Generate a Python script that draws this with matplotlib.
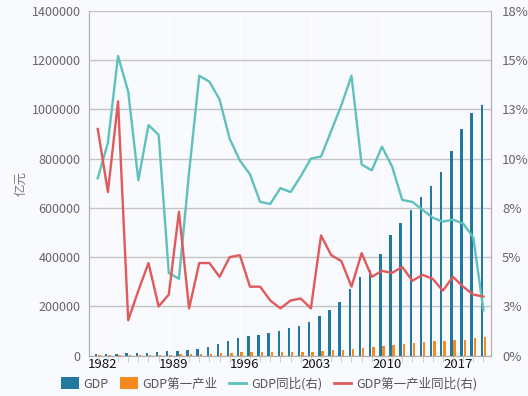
import matplotlib.pyplot as plt
import numpy as np
from matplotlib.patches import Patch
from matplotlib.lines import Line2D

plt.rcParams['font.family'] = ['Noto Sans CJK SC', 'DejaVu Sans']

years = list(range(1982, 2021))
gdp = [5373, 6021, 7279, 9099, 10376, 12175, 15180, 17180, 18873, 22006,
       27195, 35673, 48638, 61340, 71814, 79715, 85196, 90564, 100280, 110863,
       121717, 137422, 161840, 187319, 219439, 270092, 319245, 348518, 412119, 487940,
       538580, 592963, 643563, 688858, 746395, 832036, 919281, 986515, 1015986]
gdp_primary = [1761, 1960, 2295, 2541, 2764, 3204, 3831, 4228, 5017, 5288,
               5800, 6887, 9471, 12020, 13878, 14265, 14618, 14549, 14717, 15502,
               16190, 16970, 20904, 21806, 23317, 27674, 32464, 33584, 38430, 44781,
               49085, 53028, 55626, 57774, 60139, 62100, 64745, 70467, 77754]
gdp_yoy = [9.0, 10.8, 15.2, 13.4, 8.9, 11.7, 11.2, 4.2, 3.9, 9.3,
           14.2, 13.9, 13.0, 11.0, 9.9, 9.2, 7.8, 7.7, 8.5, 8.3,
           9.1, 10.0, 10.1, 11.4, 12.7, 14.2, 9.7, 9.4, 10.6, 9.6,
           7.9, 7.8, 7.4, 7.0, 6.8, 6.9, 6.7, 6.0, 2.3]
primary_yoy = [11.5, 8.3, 12.9, 1.8, 3.3, 4.7, 2.5, 3.1, 7.3, 2.4,
               4.7, 4.7, 4.0, 5.0, 5.1, 3.5, 3.5, 2.8, 2.4, 2.8,
               2.9, 2.4, 6.1, 5.1, 4.8, 3.5, 5.2, 4.0, 4.3, 4.2,
               4.5, 3.8, 4.1, 3.9, 3.3, 4.0, 3.5, 3.1, 3.0]

c_blue = '#21799f'
c_orange = '#f58a1f'
c_teal = '#5fc1bd'
c_red = '#e05a5c'
bg = '#f8fafd'

x = np.arange(len(years))

fig = plt.figure(figsize=(5.28, 3.96), dpi=100, facecolor=bg)
ax = fig.add_axes([0.1686, 0.1018, 0.7614, 0.8712], facecolor=bg)
ax2 = ax.twinx()

ax.bar(x - 0.16, gdp, width=0.24, color=c_blue, zorder=3)
ax.bar(x + 0.16, gdp_primary, width=0.24, color=c_orange, zorder=3)

ax2.plot(x, gdp_yoy, color=c_teal, lw=1.7)
ax2.plot(x, primary_yoy, color=c_red, lw=1.7)

ax.set_xlim(-0.86, 38.75)
ax.set_ylim(0, 1400000)
ax2.set_ylim(0, 17.5)

ax.set_yticks(np.arange(0, 1400001, 200000))
ax.set_yticklabels([str(v) for v in range(0, 1400001, 200000)])
rt = np.arange(0, 17.6, 2.5)
ax2.set_yticks(rt)
ax2.set_yticklabels(['%d%%' % int(np.floor(v + 0.5)) for v in rt])

ax.grid(axis='y', color='#c4c4c4', lw=1, zorder=0)
for i in range(0, len(years), 7):
    ax.axvline(i, color='#ffffff', lw=1, zorder=0)

lab_idx = list(range(0, len(years), 7))
ax.set_xticks([i + 0.5 for i in lab_idx])
ax.set_xticklabels([str(years[i]) for i in lab_idx], fontsize=9.5, color='#111111')
ax.set_xticks(x, minor=True)
ax.tick_params(axis='x', which='major', length=0, pad=2)
ax.tick_params(axis='x', which='minor', length=4, color='#c4cbd6')

ax.tick_params(axis='y', length=0, labelsize=9, labelcolor='#666666', pad=6)
ax2.tick_params(axis='y', length=0, labelsize=9.5, labelcolor='#666666', pad=8)

for a in (ax, ax2):
    for s in a.spines.values():
        s.set_color('#b0b0b0')
    a.spines['top'].set_visible(False)
ax.spines['bottom'].set_color('#c4cbd6')

ax.set_ylabel('亿元', color='#777777', fontsize=9, labelpad=3)

handles = [Patch(facecolor=c_blue), Patch(facecolor=c_orange),
           Line2D([0], [0], color=c_teal, lw=2), Line2D([0], [0], color=c_red, lw=2)]
labels = ['GDP', 'GDP第一产业', 'GDP同比(右)', 'GDP第一产业同比(右)']
fig.legend(handles, labels, loc='lower center', bbox_to_anchor=(0.51, -0.015), ncol=4,
           frameon=False, fontsize=9, labelcolor='#555555', handlelength=1.4,
           handleheight=1.1, handletextpad=0.4, columnspacing=0.9)

fig.savefig('out.png', dpi=100, facecolor=bg)
